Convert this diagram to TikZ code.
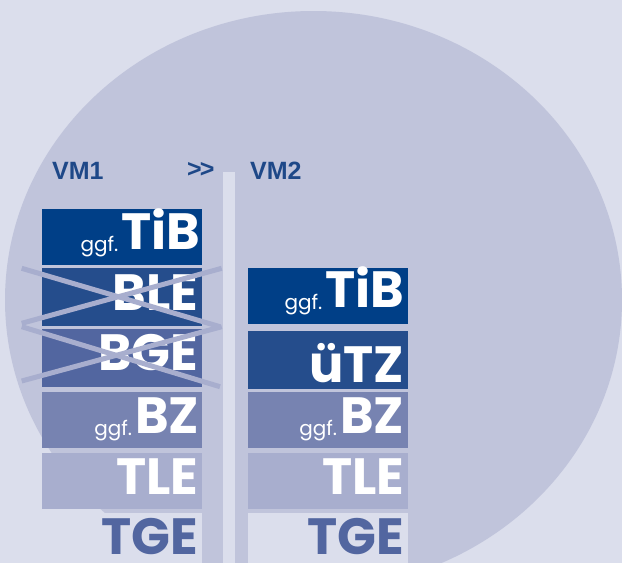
\documentclass[tikz,border=0pt]{standalone}
\usepackage{fontspec}
\usepackage{tikz}
\usetikzlibrary{calc}
\newfontfamily\vmfont{Liberation Sans}
\newfontfamily\boxfont{Poppins}
\definecolor{hgrund}{HTML}{DBDEEC}
\definecolor{kreis}{HTML}{C0C4DB}
\definecolor{cTiB}{HTML}{003F87}
\definecolor{cBLE}{HTML}{254D8C}
\definecolor{cBGE}{HTML}{5266A0}
\definecolor{cBZ}{HTML}{7783B1}
\definecolor{cTLE}{HTML}{A8AECE}
\definecolor{vmblau}{HTML}{1E4888}
\newcommand{\ggf}{\raisebox{-2pt}{\fontsize{20}{20}\selectfont\mdseries ggf.}\kern3pt}
\tikzset{
  feld/.style={rectangle, inner sep=0pt, minimum width=160pt, anchor=north west},
  schrift/.style={anchor=base east, inner sep=0pt, text=white, font=\boxfont\bfseries\fontsize{51}{51}\selectfont},
  vm/.style={anchor=base west, inner sep=0pt, text=vmblau, font=\vmfont\bfseries\fontsize{25}{25}\selectfont},
  kreuz/.style={line width=5pt, draw=cTLE}
}
\begin{document}
\begin{tikzpicture}[x=1pt,y=-1pt]
    \useasboundingbox (0,0) rectangle (622,563);
    \clip (0,0) rectangle (622,563);
    \fill[hgrund] (0,0) rectangle (622,563);
    \fill[kreis] (313.5,300) ellipse [x radius=308.5, y radius=289];
    \fill[hgrund] (223,172) rectangle (235,563);
    \node[vm] (vm1) at (52,179) {VM1};
    \node[vm] (pfeil) at (187,177) {>\kern-2pt>};
    \node[vm] (vm2) at (250,179) {VM2};
    \foreach \n/\t/\b/\c in {tib/209/265/cTiB, ble/268/326/cBLE, bge/329/387/cBGE,
        bz/392/448/cBZ, tle/453/509/cTLE, tge/513/563/hgrund}
        \node[feld, fill=\c, minimum height={(\b-\t)*1pt}] (l\n) at (42,\t) {};
    \foreach \n/\t/\b/\c in {tib/268/324/cTiB, utz/331/389/cBLE,
        bz/392/448/cBZ, tle/453/509/cTLE, tge/513/563/hgrund}
        \node[feld, fill=\c, minimum height={(\b-\t)*1pt}] (r\n) at (248,\t) {};
    \node[schrift] at ([shift={(-2pt,16pt)}]ltib.south east) {\ggf TiB};
    \node[schrift] at ([shift={(-4pt,16pt)}]lble.south east) {BLE};
    \node[schrift] at ([shift={(-4pt,17pt)}]lbge.south east) {BGE};
    \node[schrift] at ([shift={(-3pt,15pt)}]lbz.south east) {\ggf BZ};
    \node[schrift] at ([shift={(-4pt,15pt)}]ltle.south east) {TLE};
    \node[schrift, text=cBGE] at ([shift={(-4pt,9pt)}]ltge.south east) {TGE};
    \node[schrift] at ([shift={(-4pt,17pt)}]rtib.south east) {\ggf TiB};
    \node[schrift] at ([shift={(-4pt,7pt)}]rutz.south east) {üTZ};
    \node[schrift] at ([shift={(-4pt,15pt)}]rbz.south east) {\ggf BZ};
    \node[schrift] at ([shift={(-4pt,15pt)}]rtle.south east) {TLE};
    \node[schrift, text=cBGE] at ([shift={(-4pt,9pt)}]rtge.south east) {TGE};
    \draw[kreuz] (21.7,268.3) -- (220,326.7);
    \draw[kreuz] (21.7,323.3) -- (221.7,268.3);
    \draw[kreuz] (21.7,326.7) -- (220,386.7);
    \draw[kreuz] (21.7,381) -- (221.7,326.7);
\end{tikzpicture}
\end{document}
